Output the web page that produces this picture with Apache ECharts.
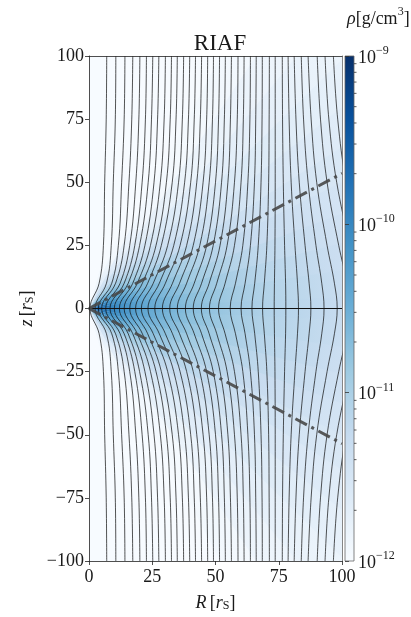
<!DOCTYPE html>
<html>
<head>
<meta charset="utf-8">
<script src="https://cdn.jsdelivr.net/npm/echarts@6/dist/echarts.min.js"></script>
<style>
html, body { margin: 0; padding: 0; background: #fff; }
#chart { width: 411px; height: 617px; }
</style>
</head>
<body>
<div id="chart"></div>
<script>
// ---- data ----
// field lines: R position of every line at |z| = 0, 10, 25, 50, 75, 100 (mirror symmetric)
var fieldZ = [0, 10, 25, 50, 75, 100];
var fieldR_z0 = [0.4, 2.4, 3.7, 5.0, 6.6, 8.3, 10.0, 12.0, 13.9, 16.1, 18.4, 20.7, 23.3, 26.0, 29.0, 31.9, 34.9, 38.1, 41.2, 44.4, 47.6, 51.2, 55.8, 60.1, 64.4, 68.6, 73.2, 77.8, 82.8, 87.7, 92.9, 98.1, 103.3, 108.5, 113.7];
var fieldR_z10 = [4.0, 6.9, 9.0, 10.5, 12.3, 13.9, 15.5, 17.3, 19.1, 21.1, 23.2, 25.4, 27.8, 30.2, 33.0, 35.8, 38.6, 41.6, 44.5, 47.5, 50.5, 53.8, 57.9, 61.7, 65.5, 69.3, 73.3, 77.7, 82.4, 87.0, 92.0, 97.0, 102.0, 107.0, 112.0];
var fieldR_z25 = [5.7, 8.8, 11.6, 13.9, 16.1, 18.1, 20.0, 22.1, 24.3, 26.5, 28.6, 31.1, 33.5, 36.0, 38.6, 41.2, 43.8, 46.5, 49.1, 51.8, 54.6, 57.5, 60.8, 63.8, 66.9, 70.3, 73.5, 77.3, 81.4, 85.4, 89.7, 94.1, 98.7, 103.2, 107.7];
var fieldR_z50 = [6.2, 9.6, 12.9, 15.8, 18.5, 21.0, 23.4, 25.7, 28.2, 30.6, 32.9, 35.4, 37.8, 40.2, 42.6, 45.1, 47.5, 50.0, 52.4, 54.9, 57.5, 60.1, 62.8, 65.4, 68.0, 71.0, 73.6, 76.8, 79.9, 83.1, 86.6, 90.0, 94.1, 97.9, 101.7];
var fieldR_z75 = [6.8, 10.4, 13.9, 16.9, 19.7, 22.3, 24.7, 27.1, 29.7, 32.1, 34.4, 36.9, 39.3, 41.6, 44.0, 46.5, 48.8, 51.2, 53.5, 55.9, 58.6, 61.0, 63.6, 65.9, 68.4, 71.2, 73.6, 76.5, 79.1, 81.8, 84.8, 87.8, 91.5, 94.8, 98.3];
var fieldR_z100 = [7.0, 10.6, 14.2, 17.3, 20.1, 22.7, 25.2, 27.6, 30.2, 32.6, 34.9, 37.4, 39.8, 42.1, 44.5, 46.9, 49.2, 51.6, 53.9, 56.3, 58.9, 61.3, 63.8, 66.1, 68.5, 71.3, 73.6, 76.4, 78.7, 81.1, 83.9, 86.6, 90.2, 93.3, 96.6];

// dash-dot boundary lines and the midplane
var coneR = [0, 100];
var coneZ = [0, 53.5];
var midplaneR = [0, 100];

// log10 density [g/cm^3], rows = latitude above the midplane (deg), columns = spherical radius [rS]
var densityRadii = [0, 2, 5, 10, 20, 40, 70, 100, 145];
var densityLatitudes = [0, 6, 12, 18, 24, 30, 36, 42, 48, 54, 60, 66, 72, 78, 84, 90];
var densityRows = [
  [-9.15, -9.45, -9.70, -10.00, -10.35, -10.72, -11.05, -11.28, -11.55],
  [-9.20, -9.49, -9.74, -10.03, -10.38, -10.75, -11.07, -11.29, -11.56],
  [-9.30, -9.58, -9.82, -10.10, -10.45, -10.81, -11.12, -11.33, -11.58],
  [-9.45, -9.71, -9.93, -10.20, -10.54, -10.89, -11.18, -11.37, -11.61],
  [-9.63, -9.87, -10.07, -10.32, -10.65, -10.99, -11.26, -11.42, -11.65],
  [-9.84, -10.05, -10.23, -10.46, -10.79, -11.11, -11.35, -11.49, -11.69],
  [-10.08, -10.26, -10.41, -10.62, -10.94, -11.25, -11.45, -11.56, -11.74],
  [-10.35, -10.49, -10.62, -10.80, -11.11, -11.40, -11.57, -11.64, -11.79],
  [-10.65, -10.75, -10.85, -11.00, -11.30, -11.57, -11.70, -11.73, -11.85],
  [-10.95, -11.01, -11.08, -11.20, -11.49, -11.74, -11.83, -11.82, -11.91],
  [-11.28, -11.30, -11.33, -11.42, -11.70, -11.93, -11.97, -11.92, -11.98],
  [-11.63, -11.60, -11.60, -11.65, -11.92, -12.12, -12.12, -12.02, -12.05],
  [-12.00, -11.92, -11.89, -11.90, -12.16, -12.34, -12.29, -12.14, -12.12],
  [-12.38, -12.25, -12.17, -12.15, -12.39, -12.55, -12.45, -12.25, -12.20],
  [-12.75, -12.57, -12.46, -12.40, -12.63, -12.76, -12.61, -12.36, -12.27],
  [-13.05, -12.83, -12.69, -12.60, -12.82, -12.93, -12.74, -12.45, -12.33]
];

// colour bar
var rhoLogMin = -12;
var rhoLogMax = -9;
var colorbarDecades = [-12, -11, -10];
var colorbarMinor = [2, 3, 4, 5, 6, 7, 8, 9];

// ---- styling ----
var FONT = 'Liberation Serif';
var INK = '#1a1a1a';
var bluesStops = ['#f7fbff', '#deebf7', '#c6dbef', '#9ecae1', '#6baed6', '#4292c6', '#2171b5', '#08519c', '#08306b'];

function hexRgb(h) {
  return [parseInt(h.substr(1, 2), 16), parseInt(h.substr(3, 2), 16), parseInt(h.substr(5, 2), 16)];
}
function blues(v) {
  var t = (v - rhoLogMin) / (rhoLogMax - rhoLogMin);
  t = Math.max(0, Math.min(1, t));
  var f = t * (bluesStops.length - 1);
  var i = Math.min(Math.floor(f), bluesStops.length - 2);
  var u = f - i;
  var a = hexRgb(bluesStops[i]), b = hexRgb(bluesStops[i + 1]);
  return 'rgb(' + [0, 1, 2].map(function (k) { return Math.round(a[k] + (b[k] - a[k]) * u); }).join(',') + ')';
}

var myChart = echarts.init(document.getElementById('chart'));

// density wedges (upper and lower half)
var wedgeData = [];
densityLatitudes.forEach(function (lat, i) {
  wedgeData.push([i, 1]);
  wedgeData.push([i, -1]);
});
var rMax = densityRadii[densityRadii.length - 1];

var densitySeries = {
  type: 'custom',
  xAxisIndex: 0,
  yAxisIndex: 0,
  clip: true,
  silent: true,
  z: 1,
  data: wedgeData,
  renderItem: function (params, api) {
    var row = api.value(0);
    var sign = api.value(1);
    var lat = densityLatitudes[row];
    var o = api.coord([0, 0]);
    var rPix = api.size([rMax, 0])[0];
    var pts = [o];
    for (var a = lat - 3.4; a <= lat + 3.41; a += 0.85) {
      var rad = a * Math.PI / 180;
      pts.push(api.coord([1.05 * rMax * Math.cos(rad), sign * 1.05 * rMax * Math.sin(rad)]));
    }
    var stops = densityRadii.map(function (r, j) {
      return { offset: r / rMax, color: blues(densityRows[row][j]) };
    });
    return {
      type: 'polygon',
      shape: { points: pts },
      style: { fill: new echarts.graphic.RadialGradient(o[0], o[1], rPix, stops, true), stroke: null }
    };
  }
};

var levels = [fieldR_z0, fieldR_z10, fieldR_z25, fieldR_z50, fieldR_z75, fieldR_z100];
var fieldSeries = fieldR_z0.map(function (_, k) {
  var pts = [];
  for (var j = fieldZ.length - 1; j >= 1; j--) pts.push([levels[j][k], -fieldZ[j]]);
  for (var j2 = 0; j2 < fieldZ.length; j2++) pts.push([levels[j2][k], fieldZ[j2]]);
  return {
    type: 'line', xAxisIndex: 0, yAxisIndex: 0, data: pts, smooth: 0.4,
    symbol: 'none', silent: true, z: 4,
    lineStyle: { color: '#111', width: 0.8, opacity: 0.9 }
  };
});

var coneSeries = [1, -1].map(function (s) {
  return {
    type: 'line', xAxisIndex: 0, yAxisIndex: 0, symbol: 'none', silent: true, z: 6,
    data: coneR.map(function (r, i) { return [r, s * coneZ[i]]; }),
    lineStyle: { color: 'rgba(72,72,72,0.9)', width: 3, type: [13, 5, 3, 5] }
  };
});

var midSeries = {
  type: 'line', xAxisIndex: 0, yAxisIndex: 0, symbol: 'none', silent: true, z: 5,
  data: midplaneR.map(function (r) { return [r, 0]; }),
  lineStyle: { color: '#111', width: 1.2 }
};

// colour bar body and log minor ticks
var colorbarSeries = {
  type: 'custom', xAxisIndex: 2, yAxisIndex: 2, silent: true, z: 2,
  data: [[0, rhoLogMin]],
  renderItem: function (params, api) {
    var p0 = api.coord([0, rhoLogMax]);
    var p1 = api.coord([1, rhoLogMin]);
    return {
      type: 'rect',
      shape: { x: p0[0], y: p0[1], width: p1[0] - p0[0], height: p1[1] - p0[1] },
      style: {
        fill: new echarts.graphic.LinearGradient(0, 1, 0, 0, bluesStops.map(function (c, i) {
          return { offset: i / (bluesStops.length - 1), color: c };
        })),
        stroke: '#666', lineWidth: 0.8
      }
    };
  }
};
var minorData = [];
colorbarDecades.forEach(function (d) {
  colorbarMinor.forEach(function (m) { minorData.push([1, d + Math.log10(m)]); });
});
var minorSeries = {
  type: 'custom', xAxisIndex: 2, yAxisIndex: 2, silent: true, z: 3,
  data: minorData,
  renderItem: function (params, api) {
    var p = api.coord([1, api.value(1)]);
    return {
      type: 'line',
      shape: { x1: p[0], y1: p[1], x2: p[0] + 2.5, y2: p[1] },
      style: { stroke: '#333', lineWidth: 0.8 }
    };
  }
};

var labelStyle = { fontFamily: FONT, fontSize: 18, color: INK };
var nameRich = {
  i: { fontFamily: FONT, fontSize: 18, fontStyle: 'italic', fontWeight: 'normal', color: INK, verticalAlign: 'bottom', lineHeight: 22 },
  n: { fontFamily: FONT, fontSize: 18, fontWeight: 'normal', color: INK, verticalAlign: 'bottom', lineHeight: 22 },
  sub: { fontFamily: FONT, fontSize: 12, fontWeight: 'normal', color: INK, verticalAlign: 'bottom', lineHeight: 17 }
};
var axisLineStyle = { color: '#222', width: 0.8 };

var option = {
  animation: false,
  backgroundColor: '#fff',
  title: [
    { text: 'RIAF', left: 215, top: 27, textAlign: 'center',
      textStyle: { fontFamily: FONT, fontSize: 23, fontWeight: 'normal', color: INK } },
    { text: '{i|ρ}{n|[g/cm}{s|3}{n|]}', left: 342, top: 1,
      textStyle: { fontWeight: 'normal', rich: {
        i: { fontFamily: FONT, fontSize: 18, fontStyle: 'italic', fontWeight: 'normal', color: INK, verticalAlign: 'bottom', lineHeight: 22 },
        n: { fontFamily: FONT, fontSize: 18, fontWeight: 'normal', color: INK, verticalAlign: 'bottom', lineHeight: 22 },
        s: { fontFamily: FONT, fontSize: 12, fontWeight: 'normal', color: INK, verticalAlign: 'top', lineHeight: 12 }
      } } }
  ],
  grid: [
    { left: 89, top: 56, width: 253, height: 505 },
    { left: 345, top: 56, width: 9, height: 505 }
  ],
  xAxis: [
    { gridIndex: 0, type: 'value', min: 0, max: 100, interval: 25, position: 'bottom', z: 10,
      axisLine: { show: true, onZero: false, lineStyle: axisLineStyle },
      axisTick: { show: true, length: 4, lineStyle: axisLineStyle },
      axisLabel: Object.assign({ margin: 7 }, labelStyle),
      splitLine: { show: false },
      name: '{i|R} {n|[}{i|r}{sub|S}{n|]}', nameLocation: 'middle', nameGap: 29,
      nameTextStyle: { rich: nameRich } },
    { gridIndex: 0, type: 'value', min: 0, max: 100, position: 'top', z: 10,
      axisLine: { show: true, onZero: false, lineStyle: axisLineStyle },
      axisTick: { show: false }, axisLabel: { show: false }, splitLine: { show: false } },
    { gridIndex: 1, type: 'value', min: 0, max: 1, show: false }
  ],
  yAxis: [
    { gridIndex: 0, type: 'value', min: -100, max: 100, interval: 25, position: 'left', z: 10,
      axisLine: { show: true, onZero: false, lineStyle: axisLineStyle },
      axisTick: { show: true, length: 4, lineStyle: axisLineStyle },
      axisLabel: Object.assign({ margin: 5, formatter: function (v) { return v < 0 ? '\u2212' + (-v) : String(v); } }, labelStyle),
      splitLine: { show: false },
      name: '{i|z} {n|[}{i|r}{sub|S}{n|]}', nameLocation: 'middle', nameGap: 52, nameRotate: 90,
      nameTextStyle: { rich: nameRich } },
    { gridIndex: 0, type: 'value', min: -100, max: 100, position: 'right', z: 10,
      axisLine: { show: true, onZero: false, lineStyle: { color: '#666', width: 0.8 } },
      axisTick: { show: false }, axisLabel: { show: false }, splitLine: { show: false } },
    { gridIndex: 1, type: 'value', min: rhoLogMin, max: rhoLogMax, interval: 1, position: 'right', z: 10,
      axisLine: { show: false },
      axisTick: { show: true, length: 4, lineStyle: { color: '#333', width: 0.8 } },
      axisLabel: {
        margin: 4, showMinLabel: true, showMaxLabel: true,
        formatter: function (v) { return '{b|10}{s|\u2212' + (-v) + '}'; },
        rich: {
          b: { fontFamily: FONT, fontSize: 18, color: INK, verticalAlign: 'bottom', lineHeight: 22 },
          s: { fontFamily: FONT, fontSize: 12, color: INK, verticalAlign: 'top', lineHeight: 12 }
        }
      },
      splitLine: { show: false } }
  ],
  series: [densitySeries, midSeries].concat(fieldSeries, coneSeries, [colorbarSeries, minorSeries])
};

myChart.setOption(option);
</script>
</body>
</html>
